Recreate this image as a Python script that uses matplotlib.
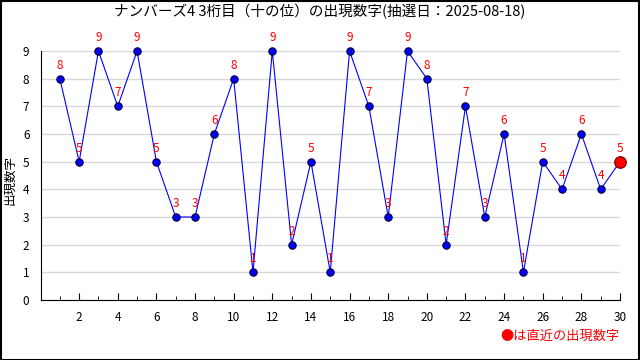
import matplotlib
matplotlib.use("Agg")
import matplotlib.pyplot as plt
from matplotlib.patches import Rectangle

plt.rcParams['font.family'] = ['Noto Sans CJK JP', 'DejaVu Sans']

draws = list(range(1, 31))
values = [8, 5, 9, 7, 9, 5, 3, 3, 6, 8, 1, 9, 2, 5, 1, 9, 7, 3, 9, 8, 2, 7, 3, 6, 1, 5, 4, 6, 4, 5]
title = "ナンバーズ4 3桁目（十の位）の出現数字(抽選日：2025-08-18)"
ylabel = "出現数字"
legend_text = "●は直近の出現数字"

fig = plt.figure(figsize=(6.4, 3.6), dpi=100)
ax = fig.add_axes([40.5/640, 1-300/360, (620-40.5)/640, 249/360])

ax.plot(draws, values, color='#0000ff', lw=0.8, zorder=3, clip_on=False)
ax.scatter(draws[:-1], values[:-1], s=28, color='#0000ff', edgecolor='#000033', lw=0.8, zorder=4, clip_on=False)
ax.scatter(draws[-1:], values[-1:], s=70, color='#ff0000', edgecolor='#660000', lw=0.8, zorder=5, clip_on=False)
for x, v in zip(draws, values):
    ax.annotate(str(v), (x, v), xytext=(0, 5), textcoords='offset points',
                ha='center', va='bottom', color='#ff0000', fontsize=8.5, zorder=6,
                annotation_clip=False)

ax.set_xlim(0, 30)
ax.set_ylim(0, 9)
ax.set_xticks(range(2, 31, 2))
ax.set_xticks(range(1, 31, 2), minor=True)
ax.set_yticks(range(0, 10))
ax.tick_params(axis='x', which='major', direction='in', length=5, labelsize=8.5, pad=8)
ax.tick_params(axis='x', which='minor', direction='in', length=3)
ax.tick_params(axis='y', length=0, labelsize=8.5, pad=8)
ax.grid(axis='y', color='#d8d8d8', lw=1)
ax.set_axisbelow(True)
for s in ['top', 'right']:
    ax.spines[s].set_visible(False)
ax.spines['left'].set_color('black')
ax.spines['bottom'].set_color('black')

fig.text(0.5, 1-12/360, title, ha='center', va='center', fontsize=10.5)
fig.text(10/640, 0.5, ylabel, rotation=90, ha='center', va='center', fontsize=9)
fig.text(560/640, 1-336/360, legend_text, ha='center', va='center', fontsize=9.5, color='#ff0000')

fig.add_artist(Rectangle((0.5/640, 0.5/360), 1-1.5/640, 1-1.5/360, transform=fig.transFigure,
                         fill=False, edgecolor='black', lw=1.5))

fig.savefig("out.png", dpi=100)
